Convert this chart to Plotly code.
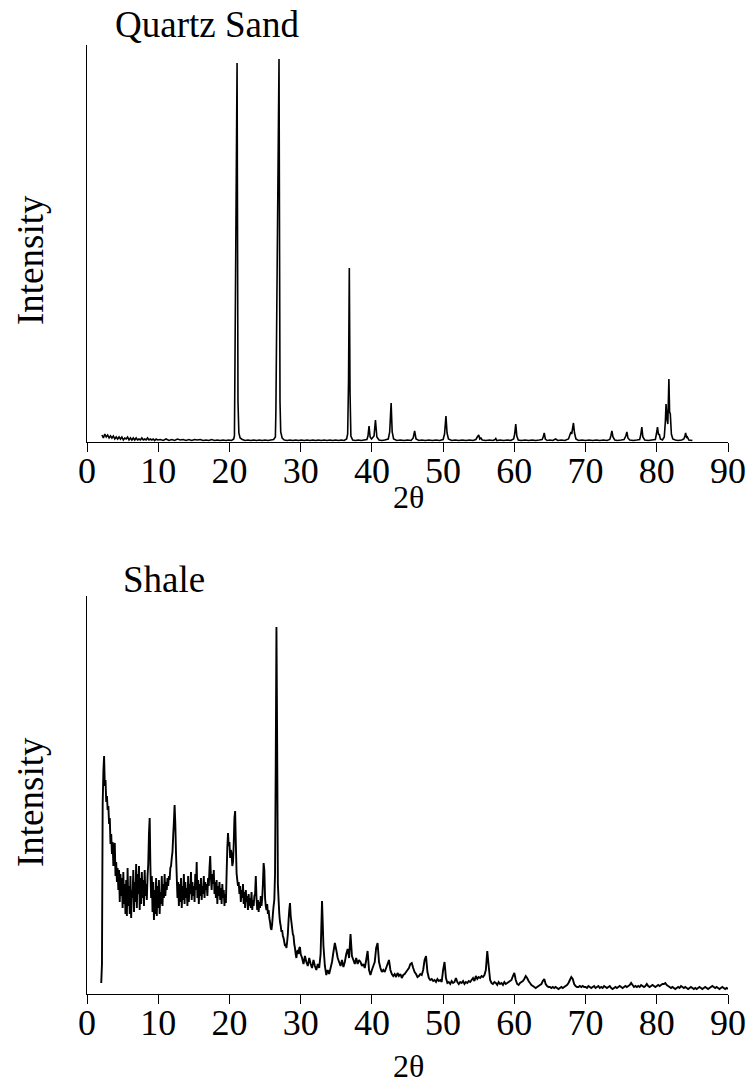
import numpy as np
import plotly.graph_objects as go

# ---------------------------------------------------------------------------
# Quartz sand diffractogram: (2-theta, intensity) pairs
# ---------------------------------------------------------------------------
quartz_2theta = [
    2.1, 2.3, 2.5, 2.7, 2.9, 3.1, 3.3, 3.5, 3.7, 3.9, 4.1, 4.3, 4.5, 4.7, 4.9,
    5.1, 5.3, 5.5, 5.7, 5.9, 6.1, 6.3, 6.5, 6.7, 6.9, 7.1, 7.3, 7.5, 7.7, 7.9,
    8.1, 8.3, 8.5, 8.7, 8.9, 9.1, 9.3, 9.5, 9.7, 9.9, 10.3, 10.7, 11.1, 11.5,
    11.9, 12.3, 12.7, 13.1, 13.5, 13.9, 14.3, 14.7, 15.1, 15.5, 15.9, 16.3,
    16.7, 17.1, 17.5, 17.9, 18.3, 18.7, 19.1, 19.5, 19.9, 20.3, 20.6,
    20.7, 20.75, 21.07, 21.2, 21.32, 21.5, 21.8,
    22.2, 22.6, 23.0, 23.4, 23.8, 24.2, 24.6, 25.0, 25.4, 25.8, 26.2, 26.45,
    26.52, 26.96, 27.1, 27.2, 27.4, 27.7,
    28.1, 28.5, 28.9, 29.3, 29.7, 30.1, 30.5, 30.9, 31.3, 31.7, 32.1, 32.5,
    32.9, 33.3, 33.7, 34.1, 34.5, 34.9, 35.3, 35.7, 36.1, 36.45,
    36.6, 36.72, 36.83, 36.93, 37.05, 37.3,
    37.7, 38.1, 38.5, 38.9, 39.3,
    39.45, 39.6, 39.75, 39.95,
    40.3, 40.5, 40.7, 41.0, 41.4, 41.8, 42.3,
    42.5, 42.7, 42.85, 43.05, 43.5, 44.0, 44.5, 45.0, 45.5,
    45.8, 46.0, 46.2, 46.6, 47.0, 47.5, 48.0, 48.5, 49.0, 49.5, 50.0,
    50.2, 50.4, 50.55, 50.75, 51.2, 51.7, 52.2, 52.7, 53.2, 53.7, 54.2, 54.6,
    54.8, 55.0, 55.15, 55.3, 55.5, 56.0, 56.5, 57.0, 57.3, 57.4, 57.55, 58.0,
    58.5, 59.0, 59.5, 59.9,
    60.05, 60.2, 60.35, 60.55, 61.0, 61.5, 62.0, 62.5, 63.0, 63.5, 63.9,
    64.05, 64.2, 64.35, 64.6, 65.0, 65.4, 65.8, 66.1, 66.6, 67.1, 67.6,
    67.8, 67.95, 68.05, 68.3, 68.45, 68.65, 69.0, 69.5, 70.0, 70.5, 71.0,
    71.5, 72.0, 72.5, 73.0, 73.4,
    73.55, 73.7, 73.85, 74.1, 74.5, 75.0, 75.4,
    75.65, 75.8, 75.95, 76.2, 76.7, 77.2, 77.6,
    77.75, 77.9, 78.05, 78.3, 78.8, 79.3, 79.8,
    79.95, 80.1, 80.25, 80.35, 80.5, 80.8, 81.05,
    81.2, 81.3, 81.45, 81.55, 81.7, 81.8, 81.9, 82.05, 82.25, 82.6, 83.0,
    83.5, 83.8,
    83.95, 84.05, 84.2, 84.3, 84.5, 85.0,
]
quartz_counts = [
    7, 4, 8, 5, 7, 4, 6, 4, 6, 3, 5, 3, 5, 3, 5,
    2, 4, 3, 5, 2, 4, 2, 4, 2, 4, 2, 3, 2, 4, 2,
    3, 2, 4, 2, 3, 2, 3, 1.5, 3, 2, 2.5, 1.5, 3, 1.5,
    2.5, 1.5, 3, 2, 2.5, 1.5, 2.5, 1.5, 2.5, 2, 2.5, 1.5,
    2, 1.5, 2.5, 1.5, 2, 1.5, 2, 1.5, 2, 1.5, 3,
    6, 54, 379, 40, 9, 4, 2.5,
    1.5, 2, 1.5, 2, 1.5, 2, 1.5, 2, 1.5, 2, 2.5, 5,
    30, 383, 40, 10, 4, 2,
    1.5, 2, 1.5, 2, 1.5, 2, 1.5, 2, 1.5, 2, 1.5, 2,
    1.5, 2, 1.5, 2, 1.5, 2, 1.5, 2, 1.5, 3,
    8, 60, 174, 50, 6, 2,
    1.5, 2, 1.5, 2, 2.5,
    6, 16, 5, 3,
    6, 22, 5, 2, 1.5, 2, 3,
    10, 39, 10, 3, 1.5, 2, 1.5, 2, 1.5,
    4, 11, 3, 1.5, 2, 1.5, 2, 1.5, 2, 1.5, 2.5,
    8, 26, 9, 3, 1.5, 2, 1.5, 2, 1.5, 2, 1.5, 2.5,
    5, 7, 3, 4, 2, 1.5, 2, 1.5, 2.5, 3.5, 1.5, 2,
    1.5, 2, 1.5, 3,
    8, 18, 6, 2, 1.5, 2, 1.5, 2, 1.5, 2, 2.5,
    5, 9, 3, 1.5, 2, 1.5, 3, 1.5, 2, 1.5, 3,
    7, 10, 8, 19, 9, 3, 1.5, 2, 1.5, 2, 1.5,
    2, 1.5, 2, 1.5, 2.5,
    6, 11, 5, 2, 1.5, 2, 2.5,
    6, 10, 4, 2, 1.5, 2, 2.5,
    7, 15, 5, 2, 1.5, 2, 2.5,
    8, 15, 7, 8, 3, 2, 5,
    20, 38, 22, 18, 63, 30, 28, 8, 3, 2, 1.5,
    2, 3,
    6, 9, 4, 5, 2, 1.5,
]

# ---------------------------------------------------------------------------
# Shale diffractogram: step scan, fine segment (0.1 deg) then coarse (0.2 deg)
# ---------------------------------------------------------------------------
SHALE_FINE_START, SHALE_FINE_STEP = 2.0, 0.1
shale_fine_counts = [
    [11, 30, 190, 222, 238, 208, 214, 192, 198, 184],    # 2
    [188, 170, 176, 150, 160, 140, 152, 128, 146, 151],  # 3
    [118, 132, 112, 126, 104, 124, 92, 120, 98, 116],    # 4
    [86, 122, 90, 110, 80, 114, 78, 126, 88, 108],       # 5
    [80, 118, 76, 104, 96, 124, 82, 112, 92, 130],       # 6
    [86, 120, 100, 128, 84, 116, 90, 122, 96, 114],      # 7
    [88, 124, 98, 110, 94, 118, 130, 160, 176, 128],     # 8
    [96, 118, 82, 112, 74, 104, 80, 116, 78, 108],       # 9
    [86, 114, 80, 102, 90, 118, 88, 110, 96, 120],       # 10
    [98, 112, 104, 116, 108, 118, 114, 126, 128, 136],   # 11
    [142, 158, 172, 189, 170, 140, 118, 96, 112, 88],    # 12
    [110, 92, 116, 86, 108, 94, 120, 90, 112, 96],       # 13
    [106, 88, 118, 92, 110, 100, 122, 94, 112, 98],      # 14
    [108, 92, 120, 104, 132, 96, 114, 90, 110, 98],      # 15
    [116, 94, 108, 100, 118, 96, 112, 104, 110, 98],     # 16
    [116, 108, 126, 138, 116, 104, 120, 110, 124, 100],  # 17
    [112, 96, 114, 90, 108, 98, 112, 94, 106, 90],       # 18
    [110, 96, 104, 88, 100, 91, 120, 146, 161, 148],     # 19
    [152, 136, 144, 140, 128, 132, 150, 176, 183, 150],  # 20
    [121, 114, 108, 112, 100, 108, 92, 104, 96, 110],    # 21
    [90, 102, 86, 104, 92, 98, 84, 100, 88, 96],         # 22
    [86, 102, 84, 94, 88, 98, 100, 118, 96, 84],         # 23
    [94, 82, 92, 86, 98, 88, 96, 110, 131, 124],         # 24
    [96, 88, 84, 90, 80, 84, 76, 72, 66, 64],            # 25
    [70, 80, 88, 94, 120, 230, 367, 250, 110, 94],       # 26
    [80, 72, 68, 62, 64, 58, 56, 52, 48, 50],            # 27
    [46, 52, 60, 74, 84, 91, 78, 72, 66, 60],            # 28
    [58, 50, 46, 40, 36, 42, 44, 40, 46, 47],            # 29
]

SHALE_COARSE_START, SHALE_COARSE_STEP = 30.0, 0.2
shale_coarse_counts = [
    [40, 36, 30, 38, 32],   # 30
    [28, 36, 30, 26, 34],   # 31
    [28, 24, 30, 26, 40],   # 32
    [93, 48, 28, 19, 24],   # 33
    [20, 26, 32, 42, 51],   # 34
    [44, 36, 32, 28, 34],   # 35
    [27, 32, 40, 45, 36],   # 36
    [60, 38, 34, 30, 36],   # 37
    [30, 34, 32, 28, 30],   # 38
    [26, 34, 43, 24, 19],   # 39
    [24, 28, 32, 46, 51],   # 40
    [32, 26, 22, 24, 22],   # 41
    [26, 30, 34, 24, 20],   # 42
    [18, 20, 17, 21, 18],   # 43
    [20, 16, 19, 20, 22],   # 44
    [24, 26, 30, 31, 26],   # 45
    [22, 20, 17, 18, 20],   # 46
    [19, 24, 34, 38, 22],   # 47
    [16, 14, 15, 13, 14],   # 48
    [12, 15, 13, 14, 12],   # 49
    [24, 32, 16, 11, 12],   # 50
    [10, 13, 11, 12, 16],   # 51
    [12, 10, 12, 11, 13],   # 52
    [10, 12, 11, 13, 12],   # 53
    [14, 16, 13, 18, 15],   # 54
    [17, 16, 18, 17, 19],   # 55
    [24, 43, 28, 14, 11],   # 56
    [10, 12, 11, 9, 12],    # 57
    [10, 11, 9, 12, 10],    # 58
    [11, 12, 13, 14, 18],   # 59
    [21, 14, 10, 9, 11],    # 60
    [12, 13, 15, 18, 16],   # 61
    [13, 11, 9, 8, 7],      # 62
    [6, 7, 8, 9, 10],       # 63
    [13, 15, 10, 8, 7],     # 64
    [7, 6, 7, 6, 7],        # 65
    [6, 5, 6, 7, 6],        # 66
    [7, 8, 9, 11, 14],      # 67
    [17, 15, 10, 8, 7],     # 68
    [7, 8, 7, 8, 7],        # 69
    [7, 6, 8, 7, 6],        # 70
    [7, 8, 6, 7, 8],        # 71
    [6, 7, 6, 8, 7],        # 72
    [6, 7, 8, 6, 5],        # 73
    [6, 7, 6, 7, 8],        # 74
    [7, 6, 7, 8, 7],        # 75
    [8, 9, 11, 9, 7],       # 76
    [8, 7, 8, 7, 9],        # 77
    [8, 7, 8, 10, 8],       # 78
    [7, 8, 9, 8, 7],        # 79
    [8, 9, 8, 9, 10],       # 80
    [10, 11, 9, 8, 7],      # 81
    [6, 7, 6, 5, 6],        # 82
    [7, 6, 8, 7, 6],        # 83
    [7, 6, 5, 6, 7],        # 84
    [6, 5, 6, 5, 6],        # 85
    [7, 6, 5, 6, 7],        # 86
    [6, 5, 6, 7, 8],        # 87
    [7, 6, 7, 6, 5],        # 88
    [6, 7, 6, 5, 6],        # 89
    [5],                    # 90
]

x_ticks = [0, 10, 20, 30, 40, 50, 60, 70, 80, 90]
x_tick_labels = [str(v) for v in x_ticks]


def scan_positions(start, step, rows):
    counts = [c for row in rows for c in row]
    angles = np.round(start + step * np.arange(len(counts)), 3)
    return angles, counts


fine_x, fine_y = scan_positions(SHALE_FINE_START, SHALE_FINE_STEP, shale_fine_counts)
coarse_x, coarse_y = scan_positions(SHALE_COARSE_START, SHALE_COARSE_STEP, shale_coarse_counts)
shale_2theta = np.concatenate([fine_x, coarse_x])
shale_counts = list(fine_y) + list(coarse_y)

# ---------------------------------------------------------------------------
# Figure
# ---------------------------------------------------------------------------
W, H = 748, 1084
ML, MR, MT, MB = 87, 20, 45, 90
PLOT_H = H - MT - MB
SERIF = "Liberation Serif, Times New Roman, serif"


def py(px):
    """Pixel row (from top of page) -> paper y."""
    return (H - MB - px) / PLOT_H


def px_x(px):
    return (px - ML) / (W - ML - MR)


fig = go.Figure()
fig.add_trace(go.Scatter(x=quartz_2theta, y=quartz_counts, mode="lines",
                         line=dict(color="black", width=1.6, simplify=False),
                         xaxis="x", yaxis="y",
                         showlegend=False, hoverinfo="skip"))
fig.add_trace(go.Scatter(x=shale_2theta, y=shale_counts, mode="lines",
                         line=dict(color="black", width=1.9, simplify=False),
                         xaxis="x2", yaxis="y2",
                         showlegend=False, hoverinfo="skip"))

xaxis_style = dict(
    range=[0, 90], tickvals=x_ticks, ticktext=x_tick_labels,
    ticks="outside", ticklen=9, tickwidth=1.4, tickcolor="black",
    showline=True, linecolor="black", linewidth=1.4,
    showgrid=False, zeroline=False, automargin=False,
    ticklabelstandoff=-12,
    tickfont=dict(family=SERIF, size=36, color="black"),
)
yaxis_style = dict(
    showline=True, linecolor="black", linewidth=1.4, automargin=False,
    showticklabels=False, ticks="", showgrid=False, zeroline=False,
)

fig.update_layout(
    width=W, height=H,
    margin=dict(l=ML, r=MR, t=MT, b=MB, autoexpand=False),
    paper_bgcolor="white", plot_bgcolor="white",
    xaxis=dict(domain=[0, 1], anchor="y", **xaxis_style),
    yaxis=dict(domain=[py(442), 1], anchor="x", range=[0, 397], **yaxis_style),
    xaxis2=dict(domain=[0, 1], anchor="y2", **xaxis_style),
    yaxis2=dict(domain=[0, py(596)], anchor="x2", range=[0, 398], **yaxis_style),
)

title_font = dict(family=SERIF, size=37, color="black")
label_font = dict(family=SERIF, size=37, color="black")
theta_font = dict(family=SERIF, size=32, color="black")
annotations = [
    dict(text="Quartz Sand", x=px_x(113), y=py(24), xanchor="left", yanchor="middle", font=title_font),
    dict(text="Shale", x=px_x(121), y=py(579), xanchor="left", yanchor="middle", font=title_font),
    dict(text="Intensity", x=px_x(30), y=py(260), textangle=-90, xanchor="center", yanchor="middle", font=label_font),
    dict(text="Intensity", x=px_x(30), y=py(802), textangle=-90, xanchor="center", yanchor="middle", font=label_font),
    dict(text="2θ", x=px_x(408), y=py(497), xanchor="center", yanchor="middle", font=theta_font),
    dict(text="2θ", x=px_x(408), y=py(1066), xanchor="center", yanchor="middle", font=theta_font),
]
for a in annotations:
    a.update(xref="paper", yref="paper", showarrow=False)
fig.update_layout(annotations=annotations)

fig.write_html("out.html")
